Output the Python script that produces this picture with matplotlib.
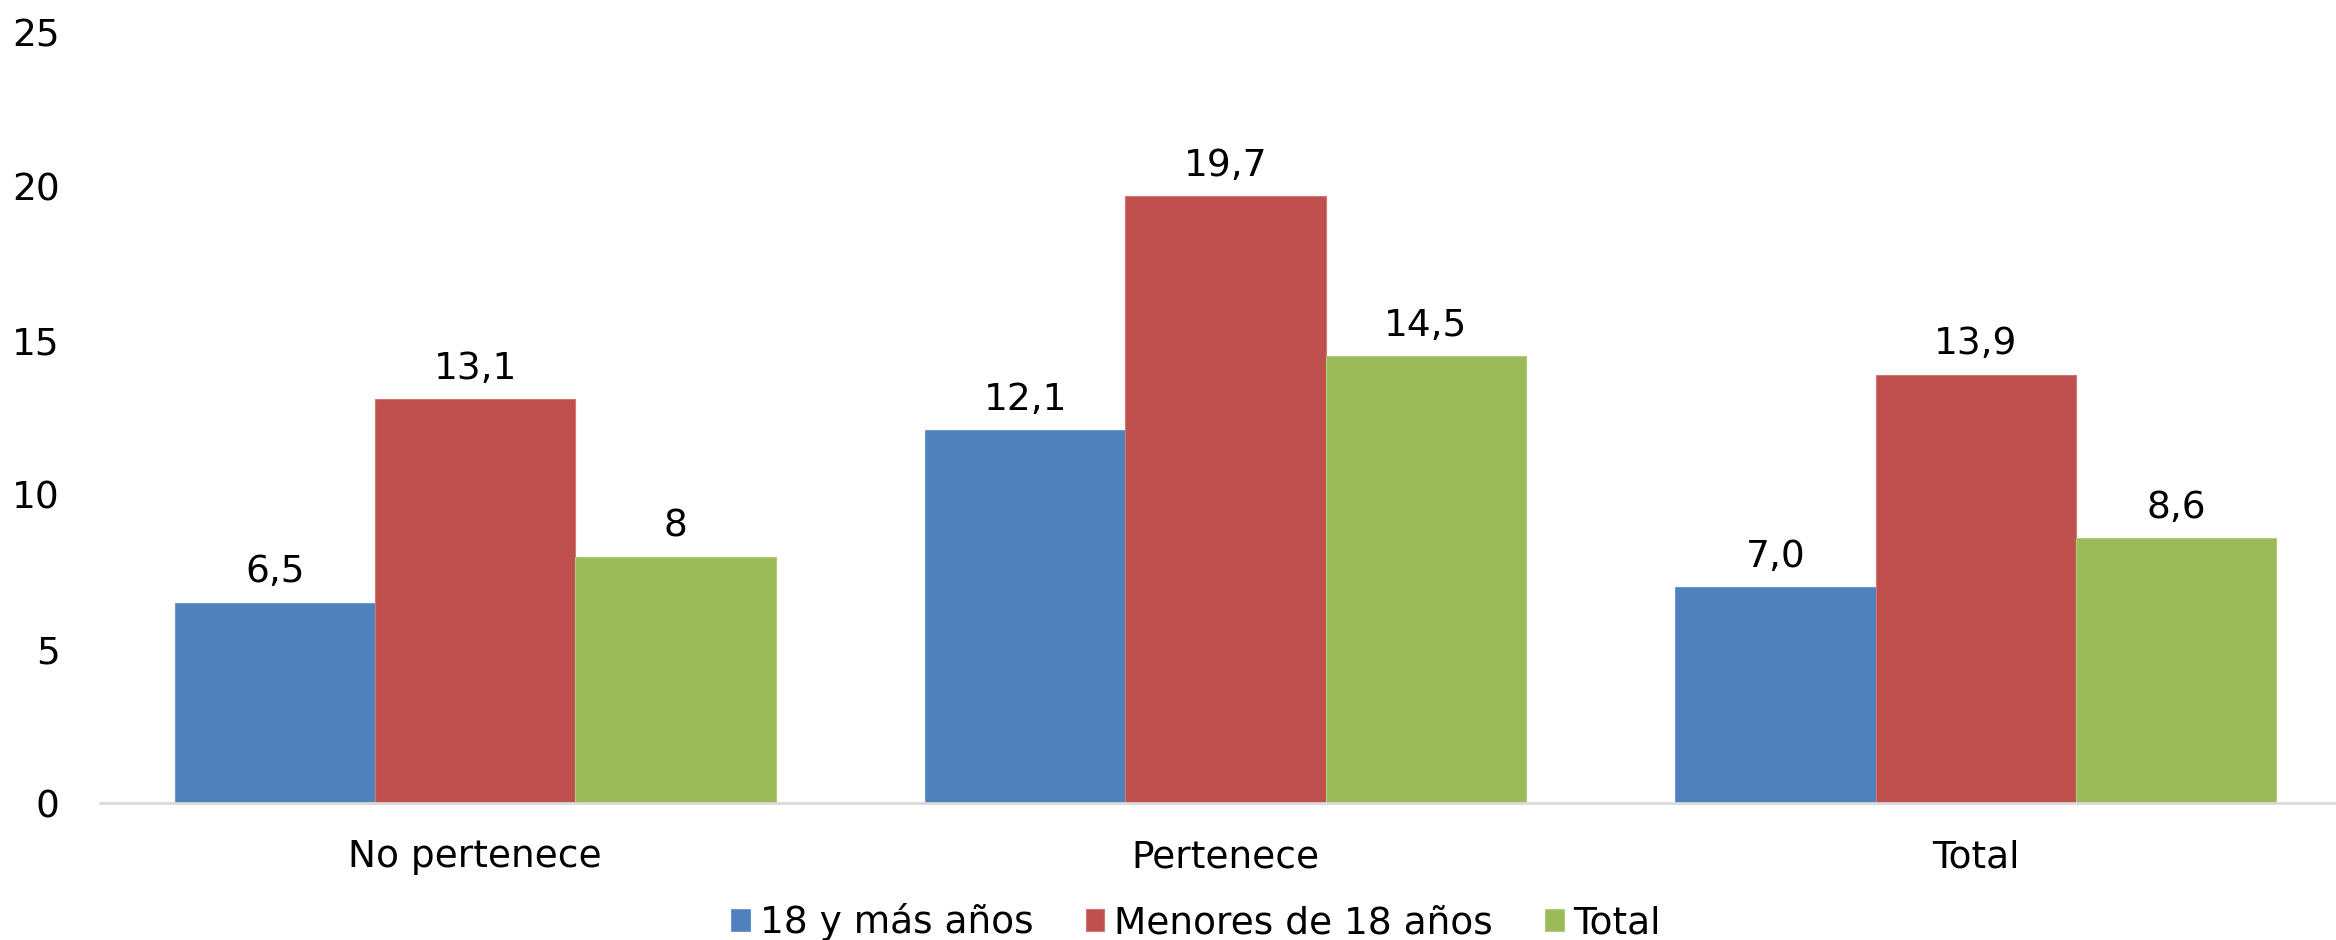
import numpy as np
import matplotlib.pyplot as plt

filename = "out.png"

categorias = ["No pertenece", "Pertenece", "Total"]
series = ["18 y más años", "Menores de 18 años", "Total"]
mayores = [6.5, 12.1, 7.0]
menores = [13.1, 19.7, 13.9]
total = [8.0, 14.5, 8.6]
etiquetas = [["6,5", "12,1", "7,0"],
             ["13,1", "19,7", "13,9"],
             ["8", "14,5", "8,6"]]

colores = ["#4F81BD", "#C0504D", "#9BBB59"]
bordes = ["#6F97CB", "#D07775", "#B1CB7E"]

plt.rcParams["font.family"] = ["DejaVu Sans"]
fs = 27

fig = plt.figure(figsize=(23.36, 9.4), dpi=100)
axs = fig.add_axes([0.0428, 0.1457, 0.9572, 0.8193])

x = np.arange(len(categorias))
ancho = 0.267
for i, (vals, lab) in enumerate(zip([mayores, menores, total], etiquetas)):
    pos = x + (i - 1) * ancho
    bars = axs.bar(pos, vals, width=ancho, color=colores[i], edgecolor=bordes[i],
                   linewidth=0.8, label=series[i], zorder=2)
    axs.bar_label(bars, labels=lab, padding=9, fontsize=fs)

axs.set_xlim(-0.5, 2.48)
axs.set_ylim(0, 25)
axs.set_yticks(range(0, 26, 5))
axs.set_xticks(x)
axs.set_xticklabels(categorias, fontsize=fs)
axs.tick_params(axis="y", labelsize=fs, length=0, pad=29)
axs.tick_params(axis="x", length=0, pad=26)
for s in ["top", "right", "left"]:
    axs.spines[s].set_visible(False)
axs.spines["bottom"].set_color("#D9D9D9")
axs.spines["bottom"].set_linewidth(2)

fig.legend(loc="center", bbox_to_anchor=(0.512, 0.019), bbox_transform=fig.transFigure,
           ncol=3, frameon=False, fontsize=fs, handlelength=0.5, handleheight=0.5,
           handletextpad=0.25, columnspacing=1.4, borderaxespad=0, borderpad=0)

fig.savefig(filename, dpi=100)
